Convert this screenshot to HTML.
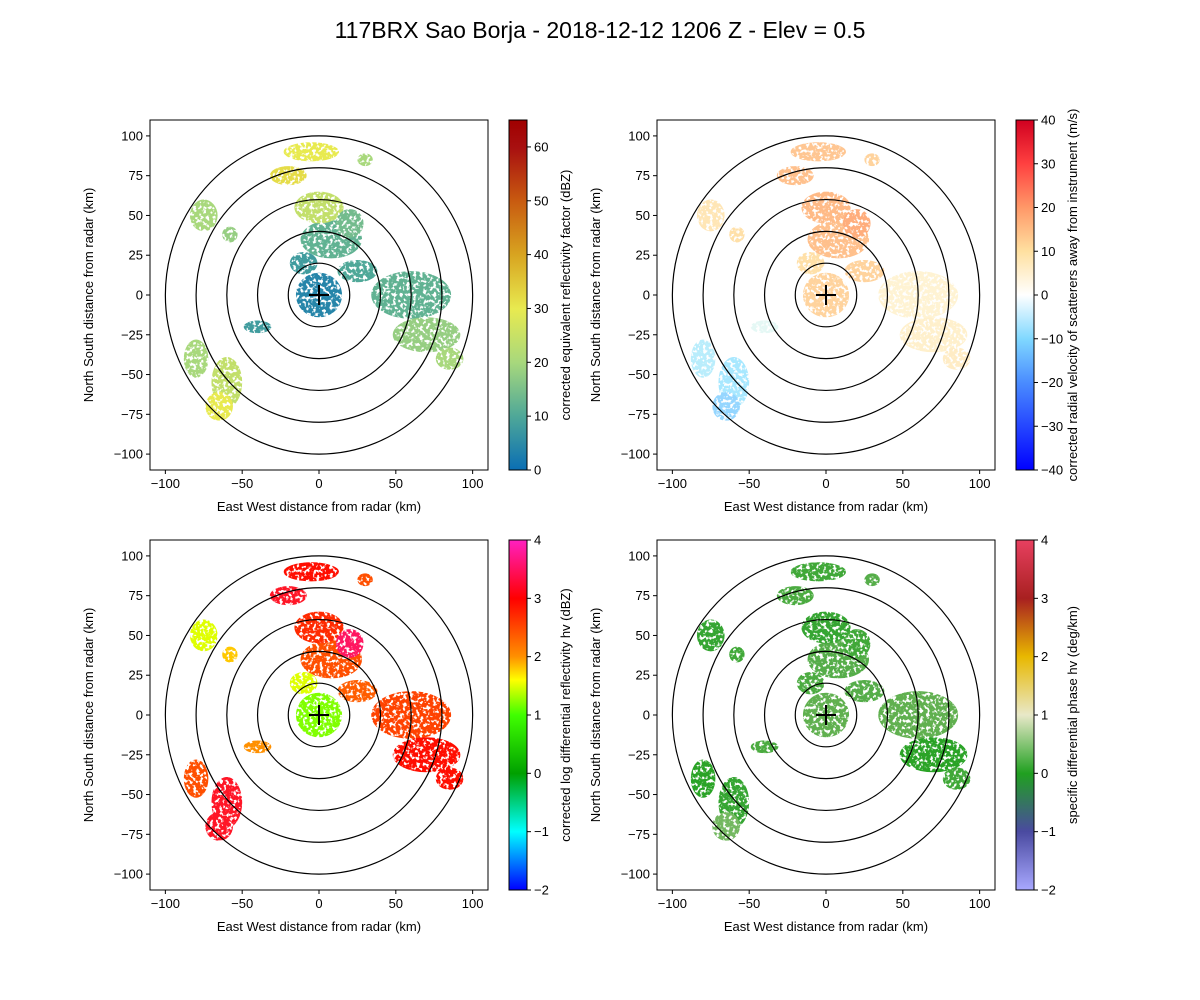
<!DOCTYPE html>
<html><head><meta charset="utf-8"><style>
body{margin:0;background:#fff}
svg{display:block;font-family:"Liberation Sans","DejaVu Sans",sans-serif}
</style></head><body>
<svg id="fig" width="1200" height="1000" viewBox="0 0 1200 1000">
<defs>
<filter id="speck" x="0" y="0" width="1200" height="1000" filterUnits="userSpaceOnUse">
<feTurbulence type="fractalNoise" baseFrequency="0.3" numOctaves="2" seed="3" result="n"/>
<feColorMatrix in="n" type="matrix" values="0 0 0 0 0  0 0 0 0 0  0 0 0 0 0  0 0 0 8 -2.8" result="m"/>
<feComposite in="SourceGraphic" in2="m" operator="in"/>
</filter>
<linearGradient id="g0" x1="0" y1="1" x2="0" y2="0">
<stop offset="0" stop-color="#0a6eb4"/><stop offset="0.154" stop-color="#4fa898"/><stop offset="0.308" stop-color="#a8d87c"/><stop offset="0.46" stop-color="#e8ea50"/><stop offset="0.615" stop-color="#d8a420"/><stop offset="0.77" stop-color="#c85a10"/><stop offset="0.92" stop-color="#a81010"/><stop offset="1" stop-color="#a00000"/></linearGradient>
<linearGradient id="g1" x1="0" y1="1" x2="0" y2="0">
<stop offset="0" stop-color="#0000ff"/><stop offset="0.25" stop-color="#4a8cff"/><stop offset="0.375" stop-color="#80d8ff"/><stop offset="0.5" stop-color="#ffffff"/><stop offset="0.625" stop-color="#ffe0a0"/><stop offset="0.75" stop-color="#ff9868"/><stop offset="0.875" stop-color="#ff4040"/><stop offset="1" stop-color="#d00020"/></linearGradient>
<linearGradient id="g2" x1="0" y1="1" x2="0" y2="0">
<stop offset="0" stop-color="#0000ff"/><stop offset="0.167" stop-color="#00ffff"/><stop offset="0.333" stop-color="#00a000"/><stop offset="0.5" stop-color="#40ff00"/><stop offset="0.6" stop-color="#ffff00"/><stop offset="0.667" stop-color="#ff9000"/><stop offset="0.833" stop-color="#ff0000"/><stop offset="1" stop-color="#ff20c0"/></linearGradient>
<linearGradient id="g3" x1="0" y1="1" x2="0" y2="0">
<stop offset="0" stop-color="#a8a8ff"/><stop offset="0.167" stop-color="#4a4aa0"/><stop offset="0.333" stop-color="#20a020"/><stop offset="0.5" stop-color="#e8e8c8"/><stop offset="0.667" stop-color="#e8b800"/><stop offset="0.833" stop-color="#a82020"/><stop offset="1" stop-color="#e84060"/></linearGradient>
</defs>
<text x="600" y="38" font-size="23" text-anchor="middle">117BRX Sao Borja - 2018-12-12 1206 Z -  Elev = 0.5</text>
</svg>
<script>
// blob data (km) shared positions
const blobX=[0,8,0,-20,-5,30,-75,-58,60,70,85,-80,-60,-65,-40,25,-10,20];
const blobY=[0,35,55,75,90,85,50,38,0,-25,-40,-40,-55,-70,-20,15,20,45];
const blobRX=[15,20,16,12,18,5,9,5,26,22,9,8,10,9,9,13,9,9];
const blobRY=[14,12,10,6,6,4,10,5,15,11,7,12,16,9,4,7,7,9];
const valRef=[4,12,24,32,30,20,20,18,12,18,20,20,24,30,8,10,8,14];
const valVel=[12,15,16,15,14,12,8,10,4,5,6,-8,-10,-12,-3,12,10,18];
const valZdr=[1.2,2.5,2.8,3.2,3,2.5,1.5,1.8,2.6,3,3,2.5,3.2,3.2,2,2.4,1.5,3.5];
const valKdp=[0.3,0.2,-0.1,0.1,0,0.2,-0.1,0,0.3,-0.2,0,-0.2,-0.1,0.4,0.1,0.2,0.1,0];
const panels=[
 {L:150,T:120,vals:valRef,min:0,max:65,ticks:[0,10,20,30,40,50,60],g:'g0',lab:'corrected equivalent reflectivity factor (dBZ)',
  cols:[[0,'#0a6eb4'],[10,'#4fa898'],[20,'#a8d87c'],[30,'#e8ea50'],[40,'#d8a420'],[50,'#c85a10'],[65,'#a00000']]},
 {L:657,T:120,vals:valVel,min:-40,max:40,ticks:[-40,-30,-20,-10,0,10,20,30,40],g:'g1',lab:'corrected radial velocity of scatterers away from instrument (m/s)',
  cols:[[-40,'#0000ff'],[-20,'#4a8cff'],[-10,'#a8e8ff'],[0,'#fffff0'],[10,'#ffe0a8'],[20,'#ffa070'],[30,'#ff4040'],[40,'#d00020']]},
 {L:150,T:540,vals:valZdr,min:-2,max:4,ticks:[-2,-1,0,1,2,3,4],g:'g2',lab:'corrected log differential reflectivity hv (dBZ)',
  cols:[[-2,'#0000ff'],[-1,'#00ffff'],[0,'#00a000'],[1,'#40ff00'],[1.6,'#ffff00'],[2,'#ff9000'],[3,'#ff1000'],[4,'#ff20c0']]},
 {L:657,T:540,vals:valKdp,min:-2,max:4,ticks:[-2,-1,0,1,2,3,4],g:'g3',lab:'specific differential phase hv (deg/km)',
  cols:[[-2,'#a8a8ff'],[-1,'#4a4aa0'],[-0.3,'#20a020'],[0.3,'#60b050'],[1,'#e8e8c8'],[2,'#e8b800'],[3,'#a82020'],[4,'#e84060']]}
];
const NS='http://www.w3.org/2000/svg';
const svg=document.getElementById('fig');
function mk(t,a,p){const e=document.createElementNS(NS,t);for(const k in a)e.setAttribute(k,a[k]);(p||svg).appendChild(e);return e;}
function hex(c){return [1,3,5].map(i=>parseInt(c.substr(i,2),16));}
function cmap(cols,v){if(v<=cols[0][0])return cols[0][1];for(let i=1;i<cols.length;i++){if(v<=cols[i][0]){const a=hex(cols[i-1][1]),b=hex(cols[i][1]),t=(v-cols[i-1][0])/(cols[i][0]-cols[i-1][0]);return 'rgb('+a.map((x,j)=>Math.round(x+(b[j]-x)*t)).join(',')+')';}}return cols[cols.length-1][1];}
const W=338,H=350;
panels.forEach((p,pi)=>{
 const sx=v=>p.L+(v+110)/220*W, sy=v=>p.T+(110-v)/220*H;
 const g=mk('g',{});
 
 
 const cp='cp'+pi;
 const c=mk('clipPath',{id:cp},g);mk('rect',{x:p.L,y:p.T,width:W,height:H},c);
 const bg=mk('g',{'clip-path':'url(#'+cp+')'},g);
 const eg=mk('g',{filter:'url(#speck)'},bg);
 blobX.forEach((bx,i)=>{
  const e=mk('ellipse',{cx:sx(bx),cy:sy(blobY[i]),rx:blobRX[i]*W/220,ry:blobRY[i]*H/220,fill:cmap(p.cols,p.vals[i])},eg);
  
  
 });
 [20,40,60,80,100].forEach(r=>{
  const e=mk('ellipse',{cx:sx(0),cy:sy(0),rx:r*W/220,ry:r*H/220,fill:'none',stroke:'#000','stroke-width':1.2},bg);
  
  
 });
 mk('path',{d:`M${sx(0)-10},${sy(0)}h20M${sx(0)},${sy(0)-10}v20`,stroke:'#000','stroke-width':2},g);
 const fr=mk('rect',{x:p.L,y:p.T,width:W,height:H,fill:'none',stroke:'#000','stroke-width':1},g);
 
 
 [-100,-50,0,50,100].forEach(t=>{mk('line',{x1:sx(t),x2:sx(t),y1:p.T+H,y2:p.T+H+4,stroke:'#000'},g);
  const tx=mk('text',{x:sx(t),y:p.T+H+18,'font-size':13,'text-anchor':'middle'},g);tx.textContent=t<0?'\u2212'+(-t):t;
  });
 [-100,-75,-50,-25,0,25,50,75,100].forEach(t=>{mk('line',{x1:p.L-4,x2:p.L,y1:sy(t),y2:sy(t),stroke:'#000'},g);
  const tx=mk('text',{x:p.L-7,y:sy(t)+4.5,'font-size':13,'text-anchor':'end'},g);tx.textContent=t<0?'\u2212'+(-t):t;
  });
 const xl=mk('text',{x:p.L+W/2,y:p.T+H+41,'font-size':13,'text-anchor':'middle'},g);xl.textContent='East West distance from radar (km)';
 
 const yl=mk('text',{x:0,y:0,'font-size':13,'text-anchor':'middle',transform:`translate(${p.L-57},${p.T+H/2}) rotate(-90)`},g);yl.textContent='North South distance from radar (km)';
 
 const cx=p.L+359,cw=18;
 const cb=mk('rect',{x:cx,y:p.T,width:cw,height:H,fill:'url(#'+p.g+')',stroke:'#000','stroke-width':1},g);
 
 const cy=v=>p.T+H-(v-p.min)/(p.max-p.min)*H;
 p.ticks.forEach(t=>{mk('line',{x1:cx+cw,x2:cx+cw+4,y1:cy(t),y2:cy(t),stroke:'#000'},g);
  const tx=mk('text',{x:cx+cw+7,y:cy(t)+4.5,'font-size':13},g);tx.textContent=t<0?'\u2212'+(-t):t;
  });
 const cl=mk('text',{x:0,y:0,'font-size':13,'text-anchor':'middle',transform:`translate(${cx+cw+43},${p.T+H/2}) rotate(-90)`},g);cl.textContent=p.lab;
 
});
</script>
</body></html>
